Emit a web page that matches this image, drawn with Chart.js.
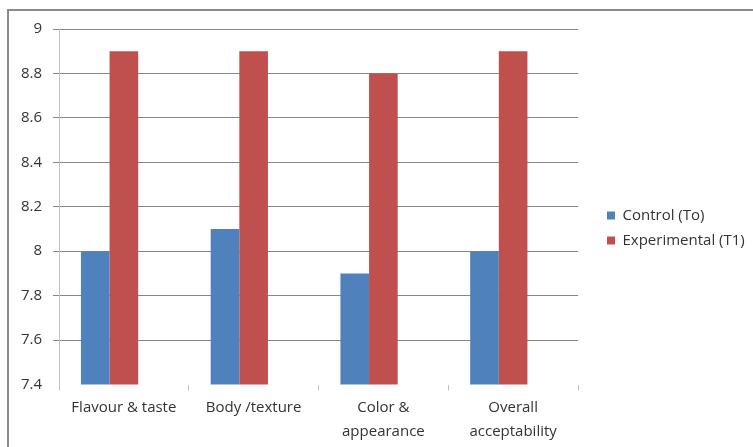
<!DOCTYPE html>
<html>
<head>
<meta charset="utf-8">
<script src="https://cdn.jsdelivr.net/npm/chart.js@4.4.0/dist/chart.umd.min.js"></script>
<style>
  html, body { margin: 0; padding: 0; background: #ffffff; }
  #wrap { position: relative; width: 753px; height: 447px; overflow: hidden; }
  #frame { position: absolute; left: 7px; top: 9px; width: 800px; height: 500px;
           border-left: 2px solid #8c8c8c; border-top: 2px solid #8c8c8c; pointer-events: none; }
  canvas { position: absolute; left: 0; top: 0; }
</style>
</head>
<body>
<div id="wrap">
  <canvas id="c" width="753" height="447"></canvas>
  <div id="frame"></div>
</div>
<script>
const categories = [["Flavour & taste"], ["Body /texture"], ["Color &", "appearance"], ["Overall", "acceptability"]];
const seriesNames = ["Control (To)", "Experimental (T1)"];
const controlValues = [8, 8.1, 7.9, 8];
const experimentalValues = [8.9, 8.9, 8.8, 8.9];
const emptySeries = [null, null, null, null];
const yMin = 7.4;
const yMax = 9;
const yStep = 0.2;

const FONT = "'Open Sans', 'Liberation Sans', sans-serif";
const TEXT = '#333333';

const layoutTweaks = {
  id: 'layoutTweaks',
  afterInit(chart) {
    const lg = chart.legend;
    const origFit = lg.fit;
    lg.fit = function () {
      origFit.call(this);
      this.width = 175;
    };
  },
  afterLayout(chart) {
    const lg = chart.legend;
    lg.left += 19; lg.right += 19;
    lg.top -= 10; lg.bottom -= 10;
  }
};

new Chart(document.getElementById('c'), {
  type: 'bar',
  data: {
    labels: categories,
    datasets: [
      { label: seriesNames[0], data: controlValues, backgroundColor: '#4F81BD', borderWidth: 0 },
      { label: seriesNames[1], data: experimentalValues, backgroundColor: '#C0504D', borderWidth: 0 },
      { label: '', data: emptySeries, backgroundColor: 'rgba(0,0,0,0)', borderWidth: 0 }
    ]
  },
  options: {
    responsive: false,
    devicePixelRatio: 1,
    animation: false,
    categoryPercentage: 0.662,
    barPercentage: 1,
    layout: { padding: { top: 29, right: 0, bottom: 0, left: 0 } },
    plugins: {
      tooltip: { enabled: false },
      legend: {
        position: 'right',
        align: 'center',
        labels: {
          boxWidth: 8, boxHeight: 8, padding: 10,
          color: TEXT,
          font: { family: FONT, size: 15 },
          filter: (item) => item.text !== ''
        }
      }
    },
    scales: {
      x: {
        grid: { display: true, drawOnChartArea: false, drawTicks: true, tickLength: 6, color: '#c0c0c0', offset: true },
        border: { display: false },
        ticks: { color: TEXT, font: { family: FONT, size: 15, lineHeight: 1.55 }, padding: 6, maxRotation: 0, autoSkip: false },
        afterFit(scale) { scale.height = 62.5; }
      },
      y: {
        min: yMin, max: yMax,
        grid: {
          color: (ctx) => (ctx.tick && Math.abs(ctx.tick.value - yMin) < 1e-6) ? 'rgba(0,0,0,0)' : '#868686',
          tickLength: 6, drawTicks: true
        },
        border: { display: true, color: '#c4c4c4', width: 1 },
        ticks: {
          stepSize: yStep,
          color: TEXT,
          font: { family: FONT, size: 15 },
          padding: 11,
          callback: (v) => String(Number(Number(v).toFixed(1)))
        },
        afterFit(scale) { scale.width = 59; }
      }
    }
  },
  plugins: [layoutTweaks]
});
</script>
</body>
</html>
